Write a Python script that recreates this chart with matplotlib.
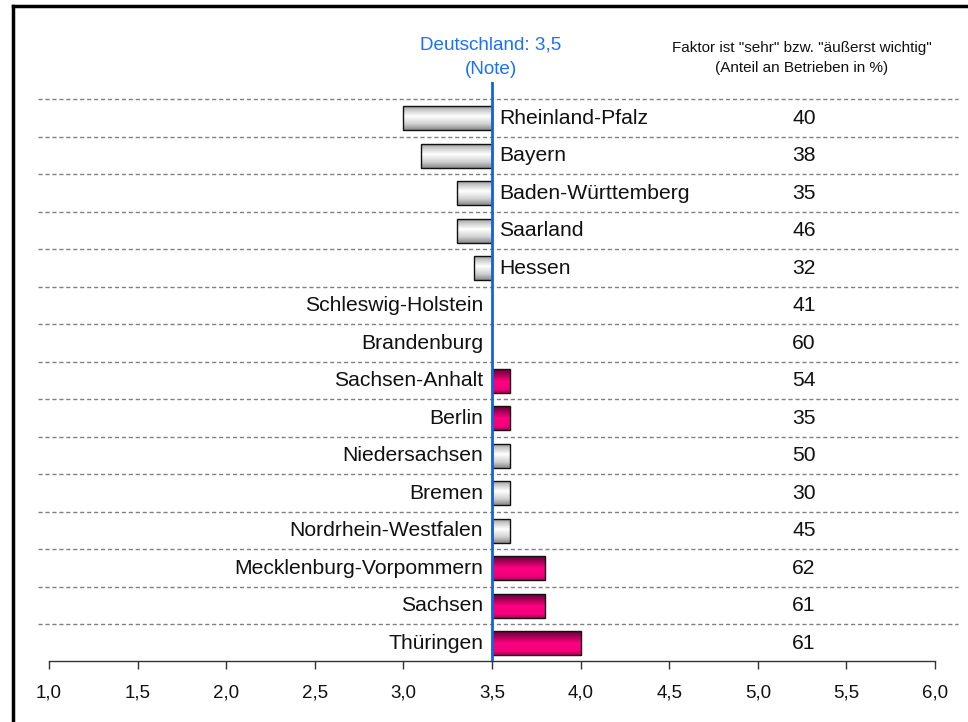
import matplotlib
matplotlib.use("Agg")
import matplotlib.pyplot as plt
import numpy as np
from matplotlib.colors import LinearSegmentedColormap
from matplotlib.patches import Rectangle
from matplotlib.lines import Line2D

plt.rcParams['font.family'] = ['Liberation Sans', 'DejaVu Sans']

states = ["Rheinland-Pfalz", "Bayern", "Baden-Württemberg", "Saarland", "Hessen",
          "Schleswig-Holstein", "Brandenburg", "Sachsen-Anhalt", "Berlin",
          "Niedersachsen", "Bremen", "Nordrhein-Westfalen",
          "Mecklenburg-Vorpommern", "Sachsen", "Thüringen"]
noten = [3.0, 3.1, 3.3, 3.3, 3.4, 3.5, 3.5, 3.6, 3.6, 3.6, 3.6, 3.6, 3.8, 3.8, 4.0]
anteil = [40, 38, 35, 46, 32, 41, 60, 54, 35, 50, 30, 45, 62, 61, 61]
ost = [False, False, False, False, False, False, True, True, True,
       False, False, False, True, True, True]
deutschland = 3.5
xticks = [1.0, 1.5, 2.0, 2.5, 3.0, 3.5, 4.0, 4.5, 5.0, 5.5, 6.0]
xticklabels = ["1,0", "1,5", "2,0", "2,5", "3,0", "3,5", "4,0", "4,5", "5,0", "5,5", "6,0"]

W, H = 968, 722
fig = plt.figure(figsize=(W / 100, H / 100), dpi=100)
ax_left, ax_right = 49 / W, 935 / W
ax_bottom, ax_top = 1 - 661 / H, 1 - 82 / H
ax = fig.add_axes([ax_left, ax_bottom, ax_right - ax_left, ax_top - ax_bottom])

row_px = 37.5
ymin_top = -(118 - 82) / row_px
ymax_bot = 14 + (661 - 643) / row_px
ax.set_xlim(1.0, 6.0)
ax.set_ylim(ymax_bot, ymin_top)

gray_cmap = LinearSegmentedColormap.from_list(
    "g", [(0, "#9a9a9a"), (0.15, "#c8c8c8"), (0.42, "#ffffff"), (0.75, "#d0d0d0"), (1, "#8a8a8a")])
mag_cmap = LinearSegmentedColormap.from_list(
    "m", [(0, "#6a0035"), (0.2, "#a00055"), (0.5, "#ff0080"), (0.85, "#f0007a"), (1, "#b0005a")])
grad = np.linspace(0, 1, 64).reshape(-1, 1)

FS = 15.2
bh = 0.64
ys = np.arange(len(states))
num_x = 5.26
for i, (y, v, o) in enumerate(zip(ys, noten, ost)):
    left, right = min(v, deutschland), max(v, deutschland)
    if right - left > 1e-9:
        ax.imshow(grad, cmap=mag_cmap if o else gray_cmap, aspect='auto',
                  extent=[left, right, y + bh / 2, y - bh / 2], zorder=2, interpolation='bilinear')
        ax.add_patch(Rectangle((left, y - bh / 2), right - left, bh, fill=False,
                               edgecolor="#111111", lw=1.0, zorder=3))
    if v < deutschland:
        ax.text(deutschland + 0.04, y, states[i], ha='left', va='center', fontsize=FS, color='#111111')
    else:
        ax.text(deutschland - 0.05, y, states[i], ha='right', va='center', fontsize=FS, color='#111111')
    ax.text(num_x, y, str(anteil[i]), ha='center', va='center', fontsize=FS, color='#111111')
    # dashed separator above each row
    ax.plot([-11 / 886, 1 + 23 / 886], [y - 0.5, y - 0.5], ls=(0, (3, 2)), color='#808080', lw=1.0,
            transform=ax.get_yaxis_transform(), clip_on=False, zorder=1)

ax.set_xlim(1.0, 6.0)
ax.set_ylim(ymax_bot, ymin_top)

ax.axvline(deutschland, color='#1464dc', lw=2, zorder=4, ymin=0, ymax=1)

ax.set_xticks(xticks)
ax.set_xticklabels(xticklabels, fontsize=13.5, color='#111111')
ax.tick_params(axis='x', direction='out', length=6, width=1, color='#333333', pad=11)
ax.set_yticks([])
for s in ['top', 'right', 'left']:
    ax.spines[s].set_visible(False)
ax.spines['bottom'].set_color('#333333')
ax.spines['bottom'].set_linewidth(1)

fig.text(491 / W, 1 - 45 / H, "Deutschland: 3,5", ha='center', va='center', fontsize=13.6, color='#1a70ff')
fig.text(491 / W, 1 - 70 / H, "(Note)", ha='center', va='center', fontsize=13.6, color='#1a70ff')
fig.text(802 / W, 1 - 48 / H, 'Faktor ist "sehr" bzw. "äußerst wichtig"', ha='center', va='center',
         fontsize=11, color='#111111')
fig.text(802 / W, 1 - 68 / H, '(Anteil an Betrieben in %)', ha='center', va='center',
         fontsize=11, color='#111111')

# frame lines (top and left)
fig.add_artist(Line2D([13 / W, 1.0], [1 - 6 / H, 1 - 6 / H], color='black', lw=2.5))
fig.add_artist(Line2D([13 / W, 13 / W], [0, 1 - 6 / H], color='black', lw=2.5))

fig.savefig("out.png", dpi=100, facecolor='white')
